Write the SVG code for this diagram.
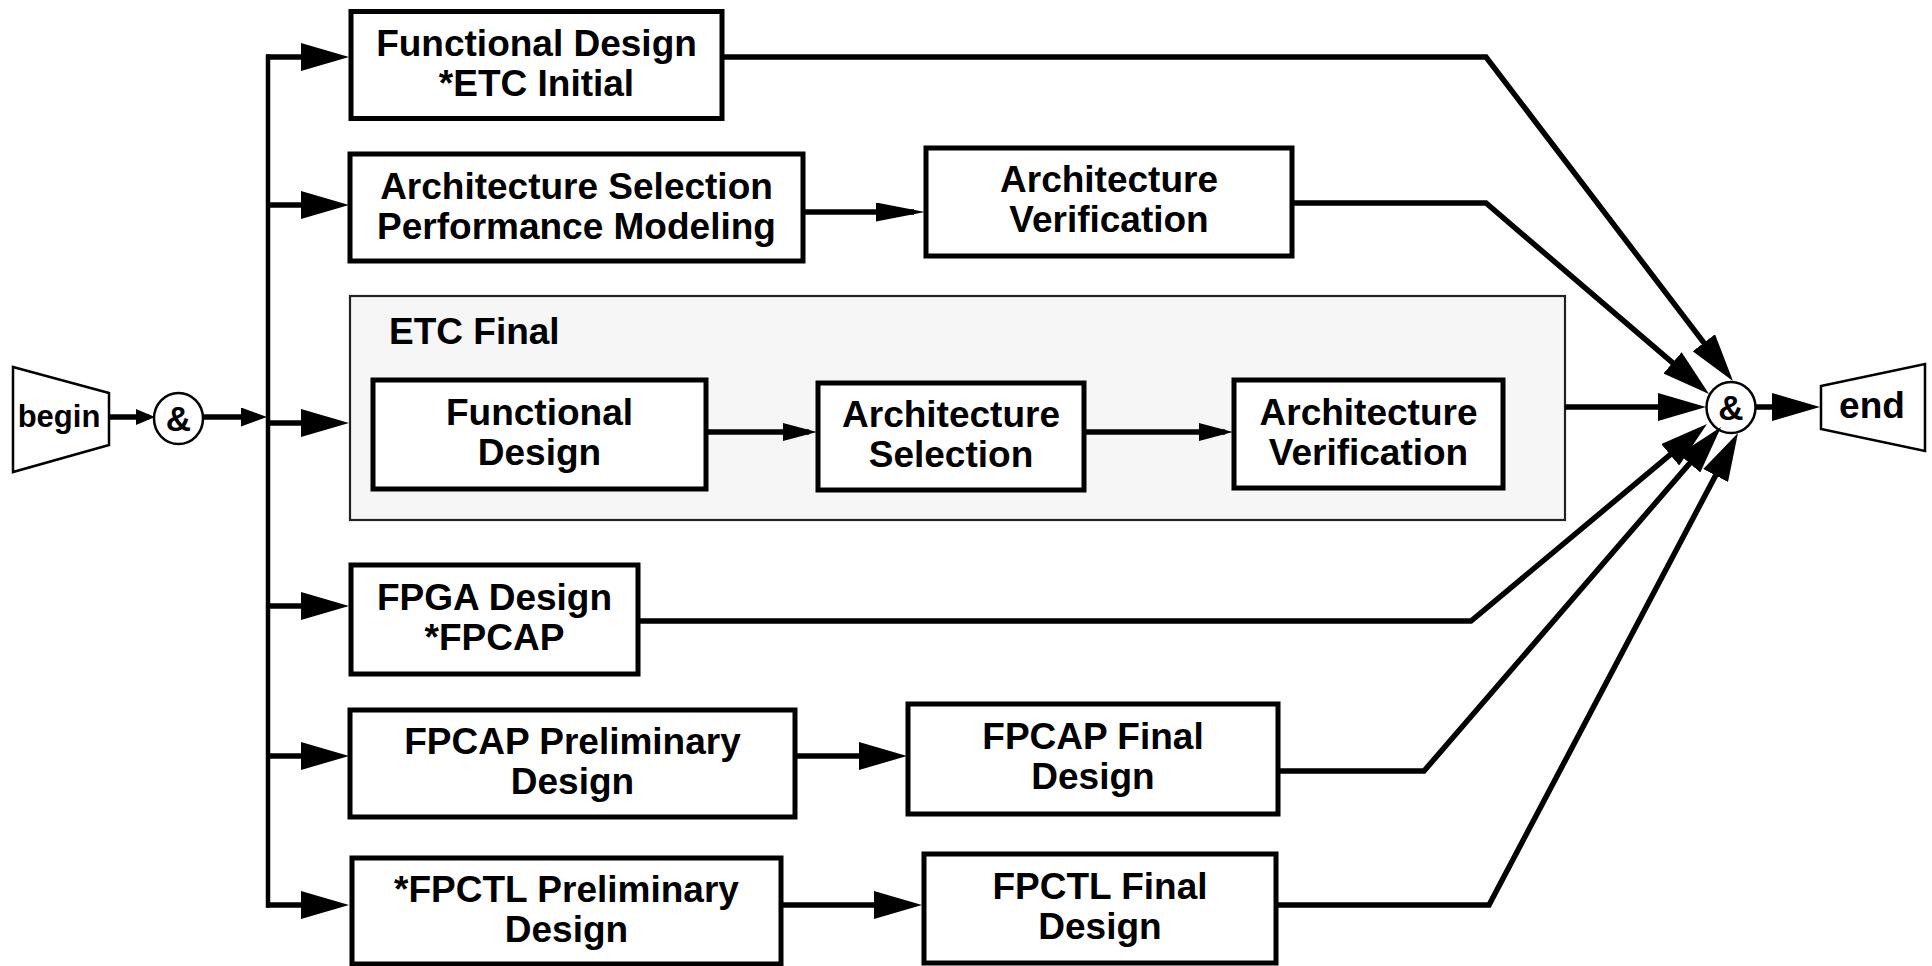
<svg xmlns="http://www.w3.org/2000/svg" width="1932" height="966" viewBox="0 0 1932 966">
<style>
.box{fill:#fff;stroke:#000;stroke-width:5}
.cont{fill:#f6f6f6;stroke:#222;stroke-width:2.2}
.term{fill:#fff;stroke:#000;stroke-width:2.5}
.t{font-family:"Liberation Sans",Arial,Helvetica,sans-serif;font-weight:bold;font-size:37px;fill:#000;text-anchor:middle}
.ts{font-size:31px}
.amp{font-size:35px}
.c{fill:none;stroke:#000;stroke-width:5.5}
.bus{fill:none;stroke:#000;stroke-width:4.5}
</style>
<defs>
<marker id="big" markerUnits="userSpaceOnUse" markerWidth="48" markerHeight="28" refX="36" refY="14" orient="auto" viewBox="0 0 48 28"><path d="M0,0 L48,14 L0,28 Z" fill="#000"/></marker>
<marker id="mid" markerUnits="userSpaceOnUse" markerWidth="49" markerHeight="19" refX="38" refY="9.5" orient="auto" viewBox="0 0 49 19"><path d="M0,0 L49,9.5 L0,19 Z" fill="#000"/></marker>
<marker id="inner" markerUnits="userSpaceOnUse" markerWidth="34" markerHeight="18" refX="26" refY="9" orient="auto" viewBox="0 0 34 18"><path d="M0,0 L34,9 L0,18 Z" fill="#000"/></marker>
<marker id="s1" markerUnits="userSpaceOnUse" markerWidth="19" markerHeight="16" refX="13" refY="8" orient="auto" viewBox="0 0 19 16"><path d="M0,0 L19,8 L0,16 Z" fill="#000"/></marker>
<marker id="s2" markerUnits="userSpaceOnUse" markerWidth="26" markerHeight="19" refX="18" refY="9.5" orient="auto" viewBox="0 0 26 19"><path d="M0,0 L26,9.5 L0,19 Z" fill="#000"/></marker>
</defs>

<g id="etc-final">
<rect class="cont" x="350" y="296" width="1215" height="224"/>
<text class="t" x="389" y="344" style="text-anchor:start">ETC Final</text>
</g>

<g id="begin">
<polygon class="term" points="13,367 109,393 109,445 13,472"/>
<text class="t ts" x="59" y="427">begin</text>
</g>
<g id="and-split">
<ellipse class="term" cx="178.5" cy="418.5" rx="24.5" ry="25.5"/>
<text class="t amp" x="178.5" y="431">&amp;</text>
</g>

<g id="functional-design-initial">
<rect class="box" x="351" y="11.5" width="371" height="107"/>
<text class="t" x="536.5" y="56">Functional Design</text>
<text class="t" x="536.5" y="96">*ETC Initial</text>
</g>
<g id="arch-selection-perf">
<rect class="box" x="350" y="154" width="453" height="107"/>
<text class="t" x="576.5" y="198.5">Architecture Selection</text>
<text class="t" x="576.5" y="238.5">Performance Modeling</text>
</g>
<g id="arch-verification">
<rect class="box" x="926" y="148" width="366" height="108"/>
<text class="t" x="1109" y="192">Architecture</text>
<text class="t" x="1109" y="232">Verification</text>
</g>
<g id="etc-functional-design">
<rect class="box" x="373" y="380" width="333" height="109"/>
<text class="t" x="539.5" y="425">Functional</text>
<text class="t" x="539.5" y="465">Design</text>
</g>
<g id="etc-arch-selection">
<rect class="box" x="818" y="383" width="266" height="107"/>
<text class="t" x="951" y="427">Architecture</text>
<text class="t" x="951" y="467">Selection</text>
</g>
<g id="etc-arch-verification">
<rect class="box" x="1234" y="380" width="269" height="108"/>
<text class="t" x="1368.5" y="424.5">Architecture</text>
<text class="t" x="1368.5" y="464.5">Verification</text>
</g>
<g id="fpga-design">
<rect class="box" x="351" y="565" width="287" height="109"/>
<text class="t" x="494.5" y="610">FPGA Design</text>
<text class="t" x="494.5" y="650">*FPCAP</text>
</g>
<g id="fpcap-preliminary">
<rect class="box" x="350" y="710" width="445" height="107"/>
<text class="t" x="572.5" y="754">FPCAP Preliminary</text>
<text class="t" x="572.5" y="794">Design</text>
</g>
<g id="fpcap-final">
<rect class="box" x="908" y="704" width="370" height="110"/>
<text class="t" x="1093" y="749">FPCAP Final</text>
<text class="t" x="1093" y="789">Design</text>
</g>
<g id="fpctl-preliminary">
<rect class="box" x="352" y="858" width="429" height="106"/>
<text class="t" x="566.5" y="902">*FPCTL Preliminary</text>
<text class="t" x="566.5" y="942">Design</text>
</g>
<g id="fpctl-final">
<rect class="box" x="924" y="854" width="352" height="109"/>
<text class="t" x="1100" y="899">FPCTL Final</text>
<text class="t" x="1100" y="939">Design</text>
</g>

<g id="and-join">
<ellipse class="term" cx="1731" cy="407.5" rx="24.5" ry="25.5"/>
<text class="t amp" x="1731" y="420">&amp;</text>
</g>
<g id="end">
<polygon class="term" points="1821,386 1925,364 1925,451 1821,429"/>
<text class="t" x="1872" y="418">end</text>
</g>

<g id="connectors">
<line class="c" x1="109" y1="417" x2="149" y2="417" marker-end="url(#s1)"/>
<line class="c" x1="203" y1="417" x2="259" y2="417" marker-end="url(#s2)"/>
<line class="bus" x1="268" y1="54.5" x2="268" y2="907.5"/>
<line class="c" x1="266" y1="57" x2="337" y2="57" marker-end="url(#big)"/>
<line class="c" x1="268" y1="205" x2="337" y2="205" marker-end="url(#big)"/>
<line class="c" x1="268" y1="423" x2="337" y2="423" marker-end="url(#big)"/>
<line class="c" x1="268" y1="606" x2="337" y2="606" marker-end="url(#big)"/>
<line class="c" x1="268" y1="756" x2="337" y2="756" marker-end="url(#big)"/>
<line class="c" x1="266" y1="905" x2="337" y2="905" marker-end="url(#big)"/>
<line class="c" x1="803" y1="212" x2="914" y2="212" marker-end="url(#mid)"/>
<line class="c" x1="706" y1="432" x2="809" y2="432" marker-end="url(#inner)"/>
<line class="c" x1="1084" y1="432" x2="1225" y2="432" marker-end="url(#inner)"/>
<line class="c" x1="795" y1="756" x2="895" y2="756" marker-end="url(#big)"/>
<line class="c" x1="781" y1="905" x2="910" y2="905" marker-end="url(#big)"/>
<polyline class="c" points="722,57 1486,57 1725.7,371.4" marker-end="url(#big)"/>
<polyline class="c" points="1292,203 1486,203 1699.9,386.2" marker-end="url(#big)"/>
<line class="c" x1="1565" y1="407" x2="1694" y2="407" marker-end="url(#big)"/>
<polyline class="c" points="638,621 1471,621 1697.8,431.7" marker-end="url(#big)"/>
<polyline class="c" points="1278,771 1424,771 1713.2,436.1" marker-end="url(#big)"/>
<polyline class="c" points="1276,905 1489,905 1732.4,443.6" marker-end="url(#big)"/>
<line class="c" x1="1756" y1="407" x2="1808" y2="407" marker-end="url(#big)"/>
</g>
</svg>
